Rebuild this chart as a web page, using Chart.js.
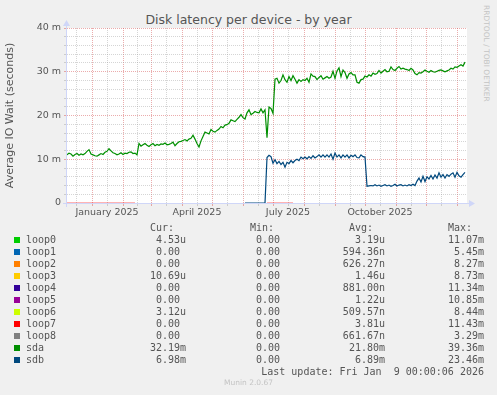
<!DOCTYPE html>
<html>
<head>
<meta charset="utf-8">
<script src="https://cdn.jsdelivr.net/npm/chart.js@4.4.1/dist/chart.umd.min.js"></script>
<style>
  html, body { margin: 0; padding: 0; background: #F0F0F0; }
  body { width: 497px; height: 395px; position: relative; overflow: hidden; font-family: "DejaVu Sans", sans-serif; }
  #chart { position: absolute; left: 0; top: 0; }
  .title { position: absolute; left: 0; width: 497px; top: 12px; text-align: center; font-size: 12.5px; line-height: 15px; color: #555; }
  .side { position: absolute; left: 482px; top: 5px; writing-mode: vertical-rl; font-size: 7.5px; line-height: 9px; color: #c4c4c4; }
  .mono { position: absolute; font-family: "DejaVu Sans Mono", monospace; font-size: 10px; line-height: 12px; color: #555; white-space: pre; }
  .sw { position: absolute; width: 6px; height: 6px; }
  .foot { position: absolute; left: 0; width: 497px; top: 378px; text-align: center; font-size: 7.5px; line-height: 10px; color: #c4c4c4; }
</style>
</head>
<body>
<div class="title">Disk latency per device - by year</div>
<div class="side">RRDTOOL / TOBI OETIKER</div>
<canvas id="chart" width="497" height="225"></canvas>
<div id="legend"></div>
<div class="foot">Munin 2.0.67</div>
<script>
// x axis is in days, day 0 = 7 Dec 2024, 400 days shown
const dayStep = 2;

// sda latency (ms), one value every 2 days starting at day 0
const sdaStart = 0;
const sdaMs = [
  11.0, 11.4, 11.2, 10.7, 11.1, 11.3, 10.9, 11.2, 11.0, 11.3,
  11.8, 12.2, 11.2, 11.0, 10.8, 10.7, 11.0, 11.3, 11.1, 11.6,
  11.8, 12.4, 11.9, 11.5, 11.3, 11.0, 11.2, 11.5, 11.1, 11.4,
  11.3, 11.6, 11.7, 11.3, 11.4, 11.0, 13.6, 13.0, 13.3, 13.6,
  13.2, 12.9, 13.3, 13.6, 13.1, 13.4, 13.2, 13.5, 13.4, 13.7,
  13.3, 13.4, 13.6, 13.9, 13.1, 13.6, 14.0, 14.1, 14.3, 14.5,
  14.2, 14.6, 14.8, 15.5, 14.6, 13.6, 12.8, 14.2, 15.2, 16.2,
  16.0, 15.8, 16.8, 16.4, 16.2, 16.6, 16.9, 17.5, 17.2, 17.8,
  17.9, 18.2, 19.0, 18.8, 18.6, 19.1, 19.6, 20.2, 19.5, 19.2,
  20.6, 21.3, 20.2, 20.5, 20.9, 20.7, 20.6, 21.5, 20.6, 21.3,
  14.9, 21.9, 21.6, 20.5, 28.3, 28.5, 27.4, 28.0, 29.3, 28.2,
  27.6, 28.9, 28.0, 29.1, 28.3, 27.4, 28.2, 27.8, 28.2, 28.0,
  28.5, 27.6, 29.5, 29.0, 28.9, 28.2, 28.7, 29.1, 28.3, 28.6,
  28.9, 28.5, 28.8, 30.1, 28.5, 30.2, 30.9, 28.9, 30.4, 29.8,
  28.5, 29.5, 29.8, 29.3, 29.3, 27.6, 27.4, 28.2, 28.3, 29.0,
  28.8, 29.3, 29.0, 29.7, 29.4, 29.6, 30.3, 29.7, 30.1, 30.5,
  30.0, 30.1, 31.1, 30.5, 30.3, 30.8, 31.2, 30.6, 30.8, 30.6,
  30.5, 30.3, 30.8, 30.4, 29.6, 29.3, 29.8, 29.7, 30.0, 30.4,
  30.1, 29.9, 30.3, 30.0, 29.9, 30.1, 30.3, 30.4, 30.2, 30.0,
  30.2, 30.4, 30.8, 30.6, 31.1, 31.0, 31.3, 31.6, 31.3, 32.2
];

// sdb latency (ms), every 2 days starting at day 178
const sdbStart = 178;
const sdbMs = [
  0, 0, 0, 0, 0, 0, 0, 0, 0, 0,
  0, 10.4, 10.9, 10.6, 9.1, 9.9, 9.0, 9.5, 8.8, 9.3,
  8.2, 9.3, 9.0, 9.7, 9.2, 9.7, 10.0, 9.7, 10.5, 10.1,
  10.5, 10.1, 10.6, 10.2, 10.8, 10.3, 10.6, 11.0, 10.5, 11.0,
  10.5, 11.0, 10.5, 11.2, 10.0, 11.4, 10.5, 11.0, 10.3, 11.0,
  10.5, 11.0, 10.3, 10.9, 10.6, 11.0, 10.4, 10.3, 11.0, 10.6,
  10.5, 3.8, 3.9, 4.0, 3.9, 4.2, 3.9, 4.1, 3.8, 4.0,
  4.2, 3.9, 4.1, 3.8, 4.0, 4.3, 3.9, 4.1, 4.2, 3.9,
  4.1, 3.9, 4.2, 4.0, 4.3, 4.0, 5.0, 5.7, 4.8, 6.1,
  4.9, 6.0, 5.5, 6.3, 5.5, 6.4, 5.7, 6.9, 5.9, 6.5,
  5.7, 6.5, 6.1, 6.6, 6.9, 5.9, 7.0, 6.2, 5.9, 6.5,
  7.0
];

// loop7 only shows as short stretches at zero
const loop7Days = [0, 68, 69, 200, 226];
const loop7Ms = [0, 0, null, 0, 0];

// x grid: month starts (major) and mid-months (minor)
const monthStartDays = [25, 56, 84, 115, 145, 176, 206, 237, 268, 298, 329, 359, 390];
const midMonthDays = [9, 40, 70, 99, 130, 160, 191, 221, 252, 283, 313, 344, 374];
const xLabelDays = [40, 130, 221, 313];
const xLabels = ['January 2025', 'April 2025', 'July 2025', 'October 2025'];

// y axis
const yMajorMs = [0, 10, 20, 30, 40];
const yLabels = ['0', '10 m', '20 m', '30 m', '40 m'];

// legend table
const devices = ['loop0', 'loop1', 'loop2', 'loop3', 'loop4', 'loop5', 'loop6', 'loop7', 'loop8', 'sda', 'sdb'];
const devColors = ['#00CC00', '#0066B3', '#FF8000', '#FFCC00', '#330099', '#990099', '#CCFF00', '#FF0000', '#808080', '#008F00', '#00487D'];
const curVals = ['4.53u', '0.00 ', '0.00 ', '10.69u', '0.00 ', '0.00 ', '3.12u', '0.00 ', '0.00 ', '32.19m', '6.98m'];
const minVals = ['0.00 ', '0.00 ', '0.00 ', '0.00 ', '0.00 ', '0.00 ', '0.00 ', '0.00 ', '0.00 ', '0.00 ', '0.00 '];
const avgVals = ['3.19u', '594.36n', '626.27n', '1.46u', '881.00n', '1.22u', '509.57n', '3.81u', '661.67n', '21.80m', '6.89m'];
const maxVals = ['11.07m', '5.45m', '8.27m', '8.73m', '11.34m', '10.85m', '8.44m', '11.43m', '3.29m', '39.36m', '23.46m'];
const lastUpdate = 'Last update: Fri Jan  9 00:00:06 2026';

const RED = 'rgba(215, 90, 90, 0.5)';
const GREY = 'rgba(150, 150, 150, 0.4)';
const AXIS = '#CFD6F8';

function series(start, vals) {
  return vals.map((v, i) => ({ x: start + i * dayStep, y: v }));
}

const frame = {
  id: 'frame',
  beforeDraw(chart) {
    const { ctx, chartArea: a } = chart;
    ctx.save();
    ctx.fillStyle = '#fff';
    ctx.fillRect(a.left, a.top, a.right - a.left, a.bottom - a.top);
    ctx.restore();
  },
  beforeDatasetsDraw(chart) {
    const { ctx, chartArea: a } = chart;
    const ax = Math.round(a.left) - 0.5;
    const ay = Math.round(a.bottom) + 0.5;
    ctx.save();
    ctx.strokeStyle = AXIS;
    ctx.fillStyle = AXIS;
    ctx.lineWidth = 1;
    ctx.beginPath();
    ctx.moveTo(a.left - 4, ay);
    ctx.lineTo(a.right + 3, ay);
    ctx.moveTo(ax, a.bottom + 4);
    ctx.lineTo(ax, a.top - 3);
    ctx.stroke();
    // arrows
    ctx.beginPath();
    ctx.moveTo(a.right + 8, ay);
    ctx.lineTo(a.right + 2, ay - 3.5);
    ctx.lineTo(a.right + 2, ay + 3.5);
    ctx.closePath();
    ctx.fill();
    ctx.beginPath();
    ctx.moveTo(ax, a.top - 8);
    ctx.lineTo(ax - 3.5, a.top - 2);
    ctx.lineTo(ax + 3.5, a.top - 2);
    ctx.closePath();
    ctx.fill();
    ctx.restore();
  }
};

Chart.defaults.font.family = '"DejaVu Sans", sans-serif';
Chart.defaults.color = '#555';

new Chart(document.getElementById('chart'), {
  type: 'line',
  data: {
    datasets: [
      { label: 'sdb', data: series(sdbStart, sdbMs), borderColor: '#00487D', borderWidth: 1.2, pointRadius: 0, tension: 0 },
      { label: 'sda', data: series(sdaStart, sdaMs), borderColor: '#008F00', borderWidth: 1.2, pointRadius: 0, tension: 0 },
      { label: 'loop7', data: loop7Days.map((d, i) => ({ x: d, y: loop7Ms[i] })), borderColor: 'rgba(255, 0, 0, 0.6)', borderWidth: 1, pointRadius: 0, spanGaps: false }
    ]
  },
  options: {
    responsive: false,
    animation: false,
    layout: { padding: { top: 28, right: 30, bottom: 2, left: 0 } },
    plugins: { legend: { display: false }, title: { display: false }, tooltip: { enabled: false } },
    scales: {
      x: {
        type: 'linear',
        min: 0,
        max: 400,
        afterBuildTicks: (scale) => {
          scale.ticks = monthStartDays.concat(midMonthDays).sort((a, b) => a - b).map(v => ({ value: v }));
        },
        afterFit: (scale) => { scale.height = 20; },
        ticks: {
          autoSkip: false,
          maxRotation: 0,
          padding: 1,
          font: { size: 9.5 },
          callback: (v) => {
            const i = xLabelDays.indexOf(v);
            return i >= 0 ? xLabels[i] : '';
          }
        },
        grid: {
          color: (c) => (c.tick && monthStartDays.includes(c.tick.value)) ? RED : GREY,
          tickLength: 3,
          lineWidth: 1
        },
        border: { display: false, dash: [1, 1] }
      },
      y: {
        min: 0,
        max: 40,
        afterFit: (scale) => { scale.width = 67; },
        ticks: {
          stepSize: 2,
          autoSkip: false,
          padding: 3,
          font: { size: 9.5 },
          callback: (v) => {
            const i = yMajorMs.indexOf(v);
            return i >= 0 ? yLabels[i] : '';
          }
        },
        grid: {
          color: (c) => (c.tick && c.tick.value % 10 === 0) ? RED : GREY,
          tickLength: 3,
          lineWidth: 1
        },
        border: { display: false, dash: [1, 1] },
        title: {
          display: true,
          text: 'Average IO Wait (seconds)',
          font: { size: 11 },
          color: '#555',
          padding: { top: 4, bottom: 0 }
        }
      }
    }
  },
  plugins: [frame]
});

// legend table as text
const legend = document.getElementById('legend');
function cell(text, top, edge) {
  const d = document.createElement('div');
  d.className = 'mono';
  d.style.top = top + 'px';
  d.style.right = (497 - edge) + 'px';
  d.style.textAlign = 'right';
  d.textContent = text;
  legend.appendChild(d);
}
const colEdges = [186, 286, 385, 484];
const headTop = 222;
['Cur:  ', 'Min:  ', 'Avg:  ', 'Max:  '].forEach((h, k) => cell(h, headTop, colEdges[k]));
devices.forEach((name, i) => {
  const top = headTop + 12 * (i + 1);
  const sw = document.createElement('div');
  sw.className = 'sw';
  sw.style.left = '14px';
  sw.style.top = (top + 3) + 'px';
  sw.style.background = devColors[i];
  legend.appendChild(sw);
  const lab = document.createElement('div');
  lab.className = 'mono';
  lab.style.left = '26px';
  lab.style.top = top + 'px';
  lab.textContent = name;
  legend.appendChild(lab);
  cell(curVals[i], top, colEdges[0]);
  cell(minVals[i], top, colEdges[1]);
  cell(avgVals[i], top, colEdges[2]);
  cell(maxVals[i], top, colEdges[3]);
});
cell(lastUpdate, headTop + 12 * (devices.length + 1), colEdges[3]);
</script>
</body>
</html>
